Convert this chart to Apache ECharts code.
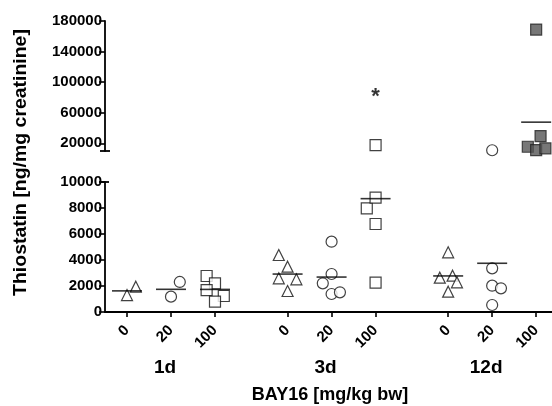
<!DOCTYPE html>
<html>
<head>
<meta charset="utf-8">
<script src="https://cdn.jsdelivr.net/npm/echarts@6/dist/echarts.min.js"></script>
<style>html,body{margin:0;padding:0;background:#fff;}#c{width:552px;height:406px;}</style>
</head>
<body>
<div id="c"></div>
<script>
// ---------- data ----------
const groups = ['1d', '3d', '12d'];
const doses = ['0', '20', '100'];
const yTicksUpper = [20000, 60000, 100000, 140000, 180000];
const yTicksLower = [0, 2000, 4000, 6000, 8000, 10000];
// values [ng/mg creatinine] per group / dose
const v1d_0 = [1300, 1950];
const v1d_20 = [1180, 2310];
const v1d_100 = [2770, 2205, 1690, 1230, 795];
const v3d_0 = [4385, 3487, 2590, 2513, 1615];
const v3d_20 = [5410, 2923, 2205, 1385, 1513];
const v3d_100 = [2256, 6770, 7974, 8795, 17800];
const v12d_0 = [4590, 2795, 2641, 2282, 1564];
const v12d_20 = [11000, 3359, 2025, 1821, 538];
const v12d_100 = [168800, 29500, 15560, 11250, 13470];
const significance = [{ group: '3d', dose: '100', value: 86000, text: '*' }];

const values = {
  '1d': [v1d_0, v1d_20, v1d_100],
  '3d': [v3d_0, v3d_20, v3d_100],
  '12d': [v12d_0, v12d_20, v12d_100]
};
// horizontal scatter jitter (in dose-slot units), mimicking the original's point spreading
const jitter = {
  '1d': [[0, 0.2], [0, 0.2], [-0.19, 0, -0.19, 0.2, 0]],
  '3d': [[-0.2, 0, -0.2, 0.2, 0], [0, 0, -0.2, 0, 0.19], [0, 0, -0.2, 0, 0]],
  '12d': [[0, 0.1, -0.19, 0.2, 0], [0, 0, 0, 0.2, 0], [0, 0.1, -0.19, 0, 0.21]]
};

// ---------- layout ----------
const BREAK = 10000;
const GROUP_GAP = 3.65;
const xPos = (g, d) => 0.5 + g * GROUP_GAP + d;
const tickPositions = [];
const tickNames = {};
groups.forEach((g, gi) => doses.forEach((d, di) => {
  const p = xPos(gi, di);
  tickPositions.push(p);
  tickNames[p.toFixed(3)] = d;
}));

const FONT = '"Liberation Sans", Arial, sans-serif';
const symbols = ['triangle', 'circle', 'rect'];
const symSizes = [11, 11, 11];

const series = [];
groups.forEach((g, gi) => {
  doses.forEach((d, di) => {
    const vals = values[g][di];
    const filled = (g === '12d' && d === '100');
    const style = {
      color: filled ? '#555555' : '#ffffff',
      borderColor: filled ? '#222222' : '#111111',
      borderWidth: 1.2
    };
    const up = [], lo = [];
    vals.forEach((v, k) => {
      const pt = [xPos(gi, di) + jitter[g][di][k], v];
      (v > BREAK ? up : lo).push(pt);
    });
    [[up, 0], [lo, 1]].forEach(([arr, gidx]) => {
      if (!arr.length) return;
      series.push({
        type: 'scatter', xAxisIndex: gidx, yAxisIndex: gidx,
        symbol: symbols[di], symbolSize: symSizes[di],
        itemStyle: style, data: arr, z: 3, animation: false
      });
    });
    const mean = vals.reduce((a, b) => a + b, 0) / vals.length;
    const mg = mean > BREAK ? 0 : 1;
    series.push({
      type: 'scatter', xAxisIndex: mg, yAxisIndex: mg,
      symbol: 'rect', symbolSize: [30, 1.6],
      itemStyle: { color: '#000' }, data: [[xPos(gi, di), mean]], z: 4, animation: false
    });
  });
});
significance.forEach(s => {
  const gi = groups.indexOf(s.group), di = doses.indexOf(s.dose);
  const gidx = s.value > BREAK ? 0 : 1;
  series.push({
    type: 'scatter', xAxisIndex: gidx, yAxisIndex: gidx, symbol: 'circle', symbolSize: 2,
    itemStyle: { color: 'rgba(0,0,0,0)' },
    data: [[xPos(gi, di), s.value]], animation: false, z: 5,
    label: { show: true, position: 'inside', formatter: s.text, color: '#000',
      fontFamily: FONT, fontWeight: 'bold', fontSize: 22, offset: [0, 4] }
  });
});

const xMax = 10.16;
const axisLineStyle = { color: '#000', width: 1.8 };
const numFmt = v => String(v);
const chart = echarts.init(document.getElementById('c'), null, { renderer: 'canvas' });
chart.setOption({
  animation: false,
  backgroundColor: '#fff',
  grid: [
    { left: 105, top: 21, width: 447, height: 130 },
    { left: 105, top: 182, width: 447, height: 130 }
  ],
  xAxis: [
    { gridIndex: 0, type: 'value', min: 0, max: xMax, show: false },
    { gridIndex: 1, type: 'value', min: 0, max: xMax,
      axisLine: { show: true, onZero: false, lineStyle: axisLineStyle },
      axisTick: { show: true, customValues: tickPositions, length: 5, lineStyle: { color: '#000', width: 1.6 } },
      axisLabel: { show: true, customValues: tickPositions, rotate: 45, margin: 16,
        formatter: v => tickNames[v.toFixed(3)] || '',
        color: '#000', fontFamily: FONT, fontWeight: 'bold', fontSize: 15 },
      splitLine: { show: false }
    }
  ],
  yAxis: [
    { gridIndex: 0, type: 'value', min: BREAK, max: 180000,
      axisLine: { show: true, lineStyle: axisLineStyle },
      axisTick: { show: true, customValues: yTicksUpper, length: 6, lineStyle: { color: '#000', width: 1.6 } },
      axisLabel: { show: true, customValues: yTicksUpper, margin: 3, color: '#000', formatter: numFmt,
        fontFamily: FONT, fontWeight: 'bold', fontSize: 15 },
      splitLine: { show: false }
    },
    { gridIndex: 1, type: 'value', min: 0, max: BREAK, interval: 2000,
      axisLine: { show: true, lineStyle: axisLineStyle },
      axisTick: { show: true, length: 6, lineStyle: { color: '#000', width: 1.6 } },
      axisLabel: { show: true, margin: 3, color: '#000', formatter: numFmt,
        fontFamily: FONT, fontWeight: 'bold', fontSize: 15 },
      splitLine: { show: false }
    }
  ],
  series: series
});

// annotations positioned through the axes
const gfx = [];
const pBreakUp = chart.convertToPixel({ gridIndex: 0 }, [0, BREAK]);
const pBreakLo = chart.convertToPixel({ gridIndex: 1 }, [0, BREAK]);
gfx.push({ type: 'line', shape: { x1: pBreakUp[0] - 5, y1: pBreakUp[1], x2: pBreakUp[0] + 5, y2: pBreakUp[1] },
  style: { stroke: '#000', lineWidth: 1.8 }, z: 10 });
gfx.push({ type: 'line', shape: { x1: pBreakLo[0] - 6, y1: pBreakLo[1], x2: pBreakLo[0] + 4, y2: pBreakLo[1] },
  style: { stroke: '#000', lineWidth: 1.8 }, z: 10 });
groups.forEach((g, gi) => {
  const p = chart.convertToPixel({ gridIndex: 1 }, [xPos(gi, 1), 0]);
  gfx.push({ type: 'text', x: p[0] - 6, y: p[1] + 56,
    style: { text: g, fill: '#000', font: 'bold 19px ' + FONT, textAlign: 'center', textVerticalAlign: 'middle' } });
});
gfx.push({ type: 'text', x: 330, y: 395,
  style: { text: 'BAY16 [mg/kg bw]', fill: '#000', font: 'bold 18px ' + FONT, textAlign: 'center', textVerticalAlign: 'middle' } });
gfx.push({ type: 'text', x: 21.5, y: 162.5, rotation: Math.PI / 2, scaleX: 1.08,
  style: { text: 'Thiostatin [ng/mg creatinine]', fill: '#000', font: 'bold 18px ' + FONT, textAlign: 'center', textVerticalAlign: 'middle' } });
chart.setOption({ graphic: gfx });
</script>
</body>
</html>
